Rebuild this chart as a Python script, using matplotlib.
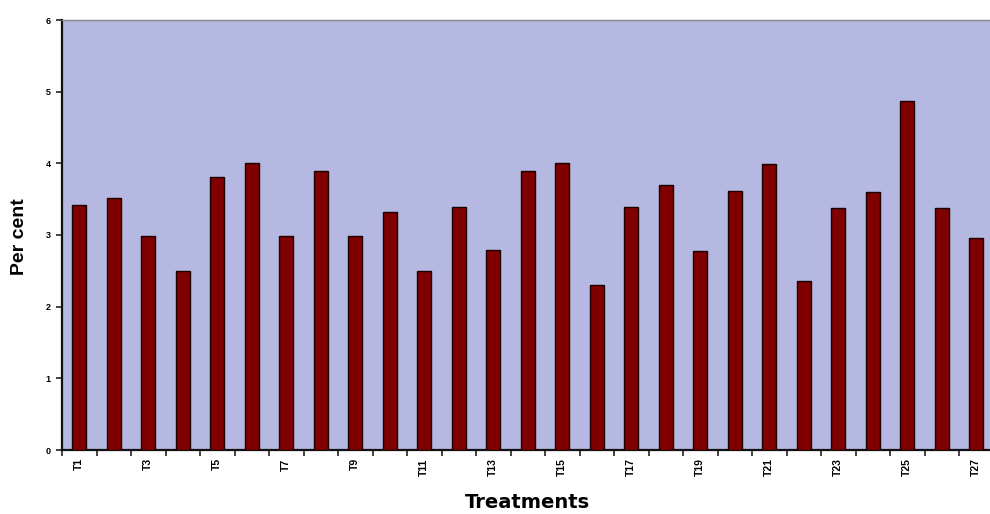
import matplotlib
matplotlib.use("Agg")
import matplotlib.pyplot as plt
import numpy as np

categories = [f"T{i}" for i in range(1, 28)]
values = [3.42, 3.51, 2.98, 2.50, 3.81, 4.00, 2.98, 3.90, 2.98, 3.32,
          2.50, 3.39, 2.79, 3.90, 4.00, 2.30, 3.39, 3.70, 2.78, 3.61,
          3.99, 2.36, 3.38, 3.60, 4.87, 3.38, 2.96]
yticks = [0, 1, 2, 3, 4, 5, 6]

plt.rcParams['font.family'] = ['Liberation Sans', 'DejaVu Sans']

fig = plt.figure(figsize=(9.9, 5.14), dpi=100)
ax = fig.add_axes([62/990, 64/514, 931.5/990, 430/514])
ax.set_facecolor('#b5b8e1')

x = np.arange(len(categories))
ax.bar(x, values, width=0.42, color='#800000', edgecolor='#1a0000', linewidth=1.0, zorder=3)

ax.set_xlim(-0.5, len(categories) - 0.5)
ax.set_ylim(0, 6)
ax.set_yticks(yticks)
ax.set_yticklabels([str(v) for v in yticks], fontsize=6.5, fontweight='bold')

ax.set_xticks(np.arange(-0.5, len(categories), 1.0))
ax.set_xticklabels([])
ax.tick_params(axis='x', which='major', direction='out', length=4, width=1.2, color='#222222')
ax.set_xticks(x, minor=True)
ax.set_xticklabels([c if i % 2 == 0 else '' for i, c in enumerate(categories)],
                   minor=True, rotation=90, fontsize=7.5, fontweight='bold')
ax.tick_params(axis='x', which='minor', length=0, pad=6)
ax.tick_params(axis='y', direction='out', length=4, width=1.2, color='#222222', pad=4)

for s in ['left', 'bottom']:
    ax.spines[s].set_linewidth(1.6)
    ax.spines[s].set_color('#111111')
ax.spines['top'].set_color('#888888')
ax.spines['top'].set_linewidth(1.0)
ax.spines['right'].set_visible(False)

fig.text(20/990, 1 - 237/514, 'Per cent', fontsize=14, fontweight='bold',
         rotation=90, ha='center', va='center')
fig.text(527/990, 1 - 503/514, 'Treatments', fontsize=14, fontweight='bold',
         ha='center', va='center', family=['DejaVu Sans'])

fig.savefig('out.png', dpi=100)
